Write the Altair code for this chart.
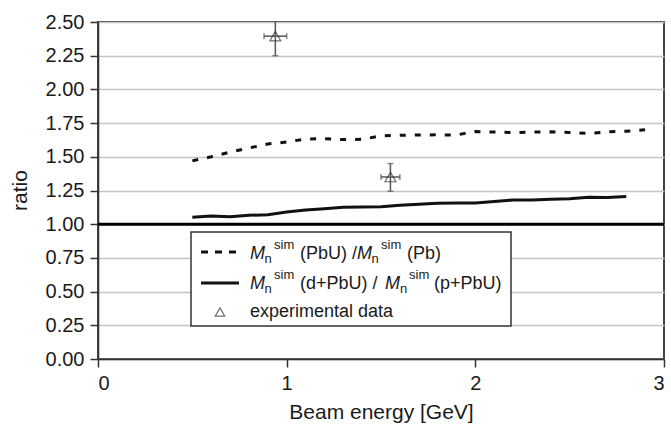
import altair as alt
import pandas as pd

# ---- data ----
sim_x_pbu = [0.5, 0.6, 0.7, 0.8, 0.9, 1.0, 1.1, 1.2, 1.3, 1.4, 1.5, 1.6, 1.7,
             1.8, 1.9, 2.0, 2.1, 2.2, 2.3, 2.4, 2.5, 2.6, 2.7, 2.8, 2.9]
ratio_pbu_pb = [1.47, 1.50, 1.535, 1.565, 1.595, 1.61, 1.632, 1.635, 1.628, 1.63,
                1.655, 1.66, 1.662, 1.663, 1.662, 1.687, 1.684, 1.68, 1.683, 1.685,
                1.68, 1.673, 1.685, 1.69, 1.70]
sim_x_dp = [0.5, 0.6, 0.7, 0.8, 0.9, 1.0, 1.1, 1.2, 1.3, 1.4, 1.5, 1.6, 1.7,
            1.8, 1.9, 2.0, 2.1, 2.2, 2.3, 2.4, 2.5, 2.6, 2.7, 2.8]
ratio_d_p = [1.052, 1.06, 1.055, 1.066, 1.07, 1.09, 1.105, 1.115, 1.125, 1.127,
             1.13, 1.14, 1.148, 1.155, 1.158, 1.158, 1.168, 1.18, 1.18, 1.186,
             1.188, 1.2, 1.198, 1.205]
exp_x = [0.94, 1.55]
exp_y = [2.395, 1.35]
exp_ylow = [2.25, 1.245]
exp_yhigh = [2.55, 1.45]
exp_xerr = [0.06, 0.05]

x_ticks = [0, 1, 2, 3]
y_ticks = [0, 0.25, 0.5, 0.75, 1.0, 1.25, 1.5, 1.75, 2.0, 2.25, 2.5]

FONT = "Liberation Sans"

df_pbu = pd.DataFrame({"x": sim_x_pbu, "y": ratio_pbu_pb})
df_dp = pd.DataFrame({"x": sim_x_dp, "y": ratio_d_p})
df_exp = pd.DataFrame({"x": exp_x, "y": exp_y, "ylow": exp_ylow, "yhigh": exp_yhigh,
                       "xerr": exp_xerr})
df_exp["xlow"] = df_exp["x"] - df_exp["xerr"]
df_exp["xhigh"] = df_exp["x"] + df_exp["xerr"]

xscale = alt.Scale(domain=[0, 3], nice=False, zero=False)
yscale = alt.Scale(domain=[0, 2.5], nice=False, zero=False)

xaxis = alt.Axis(values=x_ticks, format="d", title="Beam energy [GeV]", grid=False,
                 tickSize=8, labelPadding=6, titleX=283, titleY=59,
                 titleBaseline="alphabetic", titleFontSize=21)
yaxis = alt.Axis(values=y_ticks, format=".2f", title="ratio", grid=True,
                 tickSize=8, labelPadding=6, titleX=-78, titleY=168,
                 titleAngle=270, titleAlign="center", titleBaseline="middle",
                 titleFontSize=21, labelOverlap=False)


def X(field):
    return alt.X(field, scale=xscale, axis=xaxis)


def Y(field):
    return alt.Y(field, scale=yscale, axis=yaxis)


line_pbu = alt.Chart(df_pbu).mark_line(color="#111", strokeWidth=3, strokeDash=[6, 9]).encode(
    x=X("x:Q"), y=Y("y:Q"))
line_dp = alt.Chart(df_dp).mark_line(color="#111", strokeWidth=3).encode(
    x=X("x:Q"), y=Y("y:Q"))

err_col = "#555"
exp_base = alt.Chart(df_exp)
yerr = exp_base.mark_rule(color=err_col, strokeWidth=1.5, clip=True).encode(
    x=X("x:Q"), y=Y("ylow:Q"), y2="yhigh:Q")
xerr = exp_base.mark_rule(color=err_col, strokeWidth=1.5).encode(
    x=X("xlow:Q"), x2="xhigh:Q", y=Y("y:Q"))
ycap_lo = exp_base.mark_tick(color=err_col, orient="horizontal", size=6, thickness=1.5).encode(
    x=X("x:Q"), y=Y("ylow:Q"))
ycap_hi = exp_base.mark_tick(color=err_col, orient="horizontal", size=6, thickness=1.5,
                             clip=True).encode(x=X("x:Q"), y=Y("yhigh:Q"))
xcap_lo = exp_base.mark_tick(color=err_col, orient="vertical", size=6, thickness=1.5).encode(
    x=X("xlow:Q"), y=Y("y:Q"))
xcap_hi = exp_base.mark_tick(color=err_col, orient="vertical", size=6, thickness=1.5).encode(
    x=X("xhigh:Q"), y=Y("y:Q"))
tri = exp_base.mark_point(shape="triangle-up", filled=False, color="#333", size=120,
                          strokeWidth=1.2).encode(x=X("x:Q"), y=Y("y:Q"))

one_line = alt.Chart(pd.DataFrame({"y": [1.0]})).mark_rule(color="#000", strokeWidth=3).encode(
    y=Y("y:Q"))

# ---- manual legend ----
dummy = pd.DataFrame({"a": [0]})
leg_box = alt.Chart(dummy).mark_rect(fill="white", stroke="#333", strokeWidth=1.5).encode(
    x=alt.value(93), x2=alt.value(413), y=alt.value(210), y2=alt.value(304))
leg_dash = alt.Chart(dummy).mark_rule(color="#111", strokeWidth=3, strokeDash=[7, 7]).encode(
    x=alt.value(103), x2=alt.value(141), y=alt.value(230))
leg_solid = alt.Chart(dummy).mark_rule(color="#111", strokeWidth=3).encode(
    x=alt.value(103), x2=alt.value(141), y=alt.value(261))
leg_tri = alt.Chart(dummy).mark_point(shape="triangle-up", filled=False, color="#333",
                                      size=90, strokeWidth=1.2).encode(
    x=alt.value(122), y=alt.value(290))


def txt(s, x, y, size=18, italic=False):
    kw = dict(align="left", baseline="alphabetic", font=FONT, fontSize=size, color="#1a1a1a")
    if italic:
        kw["fontStyle"] = "italic"
    return alt.Chart(dummy).mark_text(**kw).encode(
        x=alt.value(x), y=alt.value(y), text=alt.value(s))


leg_texts = [
    # row 1
    txt("M", 152, 237, italic=True), txt("n", 166.5, 241, 13), txt("sim", 176, 227, 13),
    txt("(PbU) /", 202, 237),
    txt("M", 259, 237, italic=True), txt("n", 273.5, 241, 13), txt("sim", 283, 227, 13),
    txt("(Pb)", 309, 237),
    # row 2
    txt("M", 152, 267, italic=True), txt("n", 166.5, 271, 13), txt("sim", 176, 257, 13),
    txt("(d+PbU) /", 202, 267),
    txt("M", 287, 267, italic=True), txt("n", 302, 271, 13), txt("sim", 311, 257, 13),
    txt("(p+PbU)", 336, 267),
    # row 3
    txt("experimental data", 152, 295),
]

chart = alt.layer(
    line_pbu, line_dp, yerr, xerr, ycap_lo, ycap_hi, xcap_lo, xcap_hi, tri, one_line,
    leg_box, leg_dash, leg_solid, leg_tri, *leg_texts
).properties(
    width=566, height=337,
    autosize=alt.AutoSizeParams(type="none"),
    padding={"left": 98, "top": 22, "right": 7, "bottom": 65},
    background="white",
).configure_view(
    stroke="#444", strokeWidth=2
).configure_axis(
    labelFont=FONT, titleFont=FONT, labelFontSize=20, titleFontWeight="normal",
    labelColor="#1a1a1a", titleColor="#1a1a1a", domainColor="#333", domainWidth=1.5,
    tickColor="#333", tickWidth=1.5, gridColor="#c4c4c4", gridWidth=1.5,
)

chart.save("out.html", embed_options={"renderer": "svg", "actions": False})
